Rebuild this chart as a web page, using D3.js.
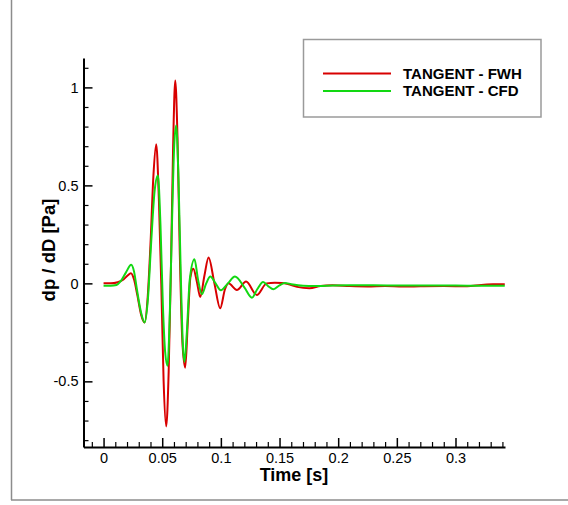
<!DOCTYPE html>
<html>
<head>
<meta charset="utf-8">
<script src="https://cdn.jsdelivr.net/npm/d3@7"></script>
<style>
  html, body { margin: 0; padding: 0; background: #fff; }
  svg { display: block; font-family: "Liberation Sans", Arial, Helvetica, sans-serif; }
</style>
</head>
<body>
<svg id="chart" width="568" height="505"></svg>
<script>
// ---------------- data ----------------
const seriesNames = ["TANGENT - FWH", "TANGENT - CFD"];

const fwhTime = [0, 0.006, 0.012, 0.017, 0.0205, 0.0233, 0.026, 0.0288, 0.032, 0.035, 0.0375, 0.040, 0.0425, 0.0449,
  0.0472, 0.0492, 0.0512, 0.0534, 0.0555, 0.0575, 0.0593, 0.0611, 0.0630, 0.0650, 0.0672, 0.0696, 0.0718, 0.0740,
  0.0765, 0.0795, 0.0824, 0.086, 0.0895, 0.0945, 0.0994, 0.1035, 0.1065, 0.1136, 0.1215, 0.1306, 0.139, 0.146,
  0.152, 0.158, 0.165, 0.1755, 0.185, 0.195, 0.21, 0.225, 0.24, 0.255, 0.27, 0.29, 0.31, 0.322, 0.332, 0.342];
const fwhValue = [0.0, 0.0, 0.006, 0.02, 0.04, 0.052, 0.02, -0.06, -0.16, -0.2, -0.08, 0.2, 0.55, 0.71,
  0.42, 0.0, -0.5, -0.73, -0.45, 0.1, 0.7, 1.035, 0.75, 0.15, -0.3, -0.43, -0.2, 0.03,
  0.075, 0.01, -0.07, 0.04, 0.132, 0.0, -0.127, -0.03, 0.0, -0.034, 0.009, -0.059, 0.0, 0.003,
  0.002, -0.005, -0.018, -0.025, -0.014, -0.01, -0.014, -0.016, -0.014, -0.016, -0.015, -0.014, -0.015, -0.008, -0.005, -0.004];

const cfdTime = [0, 0.006, 0.011, 0.0145, 0.019, 0.0236, 0.026, 0.0284, 0.032, 0.035, 0.0378, 0.0405, 0.0435, 0.0463,
  0.0485, 0.0505, 0.0525, 0.0545, 0.0565, 0.0585, 0.0602, 0.0619, 0.0638, 0.0658, 0.0675, 0.069, 0.071, 0.0735,
  0.0775, 0.0805, 0.0838, 0.0875, 0.091, 0.0955, 0.100, 0.106, 0.112, 0.12, 0.1265, 0.131, 0.136, 0.1405,
  0.1448, 0.15, 0.1546, 0.16, 0.17, 0.18, 0.19, 0.21, 0.23, 0.25, 0.27, 0.29, 0.31, 0.33, 0.342];
const cfdValue = [-0.012, -0.012, -0.008, 0.01, 0.055, 0.095, 0.06, -0.03, -0.15, -0.2, -0.08, 0.2, 0.47, 0.55,
  0.3, -0.1, -0.35, -0.42, -0.15, 0.35, 0.7, 0.805, 0.55, 0.05, -0.3, -0.40, -0.25, 0.02,
  0.123, 0.02, -0.055, 0.0, 0.035, 0.0, -0.035, 0.0, 0.035, -0.02, -0.073, -0.03, 0.007, -0.015,
  -0.03, -0.01, 0.002, -0.004, -0.012, -0.014, -0.012, -0.01, -0.01, -0.011, -0.011, -0.011, -0.012, -0.012, -0.012];

const xMajorTicks = [0, 0.05, 0.1, 0.15, 0.2, 0.25, 0.3];
const xTickLabels = ["0", "0.05", "0.1", "0.15", "0.2", "0.25", "0.3"];
const xMinorTicks = [-0.01, 0.01, 0.02, 0.03, 0.04, 0.06, 0.07, 0.08, 0.09, 0.11, 0.12, 0.13, 0.14, 0.16, 0.17, 0.18, 0.19,
  0.21, 0.22, 0.23, 0.24, 0.26, 0.27, 0.28, 0.29, 0.31, 0.32, 0.33, 0.34];
const yMajorTicks = [-0.5, 0, 0.5, 1];
const yTickLabels = ["-0.5", "0", "0.5", "1"];
const yMinorTicks = [-0.8, -0.7, -0.6, -0.4, -0.3, -0.2, -0.1, 0.1, 0.2, 0.3, 0.4, 0.6, 0.7, 0.8, 0.9, 1.1];

// ---------------- drawing ----------------
const svg = d3.select("#chart");
const colors = ["#d80000", "#12d812"];

// frame lines
svg.append("line").attr("x1", 11.5).attr("y1", 0).attr("x2", 11.5).attr("y2", 500)
  .attr("stroke", "#8c8c8c").attr("stroke-width", 1.5);
svg.append("line").attr("x1", 11).attr("y1", 500).attr("x2", 568).attr("y2", 500)
  .attr("stroke", "#8c8c8c").attr("stroke-width", 1.5);

const x = d3.scaleLinear().domain([-0.0171, 0.3422]).range([83.5, 505]);
const y = d3.scaleLinear().domain([-0.835, 1.15]).range([447, 58]);

// minor ticks
svg.append("g").attr("transform", "translate(0,447)")
  .call(d3.axisBottom(x).tickValues(xMinorTicks).tickSize(-5).tickFormat(""))
  .call(g => g.select(".domain").remove())
  .call(g => g.selectAll("line").attr("stroke-width", 1.2));
svg.append("g").attr("transform", "translate(83.5,0)")
  .call(d3.axisLeft(y).tickValues(yMinorTicks).tickSize(-5).tickFormat(""))
  .call(g => g.select(".domain").remove())
  .call(g => g.selectAll("line").attr("stroke-width", 1.2));

// major axes
const xAxis = svg.append("g").attr("transform", "translate(0,447)")
  .call(d3.axisBottom(x).tickValues(xMajorTicks).tickSizeInner(-9).tickSizeOuter(0).tickPadding(6)
    .tickFormat((d, i) => xTickLabels[i]));
xAxis.select(".domain").attr("stroke-width", 2);
xAxis.selectAll("line").attr("stroke-width", 1.5);
xAxis.selectAll("text").attr("font-size", "14.5px").attr("fill", "#000")
  .attr("font-family", "'Liberation Sans', Arial, sans-serif");

const yAxis = svg.append("g").attr("transform", "translate(83.5,0)")
  .call(d3.axisLeft(y).tickValues(yMajorTicks).tickSizeInner(-9).tickSizeOuter(0).tickPadding(5)
    .tickFormat((d, i) => yTickLabels[i]));
yAxis.select(".domain").attr("stroke-width", 2);
yAxis.selectAll("line").attr("stroke-width", 1.5);
yAxis.selectAll("text").attr("font-size", "14.5px").attr("fill", "#000")
  .attr("font-family", "'Liberation Sans', Arial, sans-serif");

// axis titles
svg.append("text").attr("x", 294).attr("y", 481).attr("text-anchor", "middle")
  .attr("font-size", "18px").attr("font-weight", "bold").text("Time [s]");
svg.append("text").attr("transform", "translate(54.5,250) rotate(-90)").attr("text-anchor", "middle")
  .attr("font-size", "18.5px").attr("font-weight", "bold").text("dp / dD [Pa]");

// lines
const line = d3.line().x(d => x(d[0])).y(d => y(d[1])).curve(d3.curveMonotoneX);
const fwh = fwhTime.map((t, i) => [t, fwhValue[i]]);
const cfd = cfdTime.map((t, i) => [t, cfdValue[i]]);
svg.append("path").datum(fwh).attr("d", line).attr("fill", "none")
  .attr("stroke", colors[0]).attr("stroke-width", 2).attr("stroke-linejoin", "round");
svg.append("path").datum(cfd).attr("d", line).attr("fill", "none")
  .attr("stroke", colors[1]).attr("stroke-width", 2).attr("stroke-linejoin", "round");

// legend
const lg = svg.append("g");
lg.append("rect").attr("x", 303.5).attr("y", 39.5).attr("width", 237.5).attr("height", 77.5)
  .attr("fill", "#fff").attr("stroke", "#9a9a9a").attr("stroke-width", 1.5);
seriesNames.forEach((name, i) => {
  const yy = 73.5 + i * 17.5;
  lg.append("line").attr("x1", 323).attr("x2", 391).attr("y1", yy).attr("y2", yy)
    .attr("stroke", colors[i]).attr("stroke-width", 2);
  lg.append("text").attr("x", 403).attr("y", yy + 5.4).attr("font-size", "15px")
    .attr("font-weight", "bold").attr("fill", "#000").text(name);
});
</script>
</body>
</html>
